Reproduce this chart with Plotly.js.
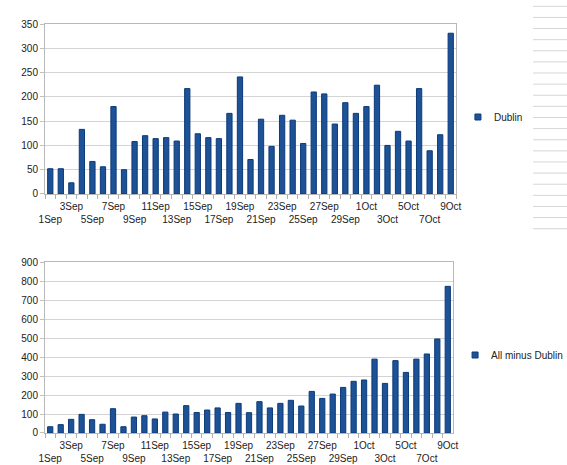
<!DOCTYPE html>
<html>
<head>
<meta charset="utf-8">
<script src="https://cdn.plot.ly/plotly-3.0.1.min.js"></script>
<style>html,body{margin:0;padding:0;background:#fff;}#chart{width:567px;height:465px;}</style>
</head>
<body>
<div id="chart"></div>
<script>
const categories = ["1Sep","2Sep","3Sep","4Sep","5Sep","6Sep","7Sep","8Sep","9Sep","10Sep",
  "11Sep","12Sep","13Sep","14Sep","15Sep","16Sep","17Sep","18Sep","19Sep","20Sep",
  "21Sep","22Sep","23Sep","24Sep","25Sep","26Sep","27Sep","28Sep","29Sep","30Sep",
  "1Oct","2Oct","3Oct","4Oct","5Oct","6Oct","7Oct","8Oct","9Oct"];
const dublin = [52,52,23,133,67,56,180,50,108,120,
  114,116,109,217,124,116,114,166,241,71,
  154,98,162,152,104,210,206,144,188,166,
  180,224,100,129,109,217,89,122,331];
const allMinusDublin = [33,44,72,98,70,46,128,33,84,91,
  74,110,100,144,108,121,132,108,156,107,
  165,132,156,172,142,219,182,205,240,272,
  279,389,261,381,319,389,416,495,772];
const seriesNames = ["Dublin","All minus Dublin"];

// two-row tick labels: every other day labelled, alternating rows
const tickText = categories.map((c, i) => i % 4 === 0 ? " <br>" + c : (i % 4 === 2 ? c : ""));

const barColor = "#1d5296";
const barLine = "#0c3a78";
const font = {family: "Liberation Sans, Arial, sans-serif", size: 10, color: "#222"};

const traces = [
  {type: "bar", x: categories, y: dublin, name: seriesNames[0], xaxis: "x", yaxis: "y",
   marker: {color: barColor, line: {color: barLine, width: 1}}, legend: "legend"},
  {type: "bar", x: categories, y: allMinusDublin, name: seriesNames[1], xaxis: "x2", yaxis: "y2",
   marker: {color: barColor, line: {color: barLine, width: 1}}, legend: "legend2"}
];

function xAxis(domain, anchor) {
  return {domain: domain, anchor: anchor, type: "category", tickmode: "array",
    tickvals: categories, ticktext: tickText, tickson: "boundaries",
    ticks: "outside", ticklen: 4, tickcolor: "#b0b0b0", showgrid: false,
    showline: true, linecolor: "#b8b8b8", linewidth: 1, mirror: true,
    ticklabelstandoff: 3,
    tickangle: 0, automargin: false, tickfont: font, fixedrange: true};
}
function yAxis(domain, anchor, range, dtick) {
  return {domain: domain, anchor: anchor, range: range, dtick: dtick,
    ticks: "outside", ticklen: 4, tickcolor: "#c0c0c0",
    showgrid: true, gridcolor: "#d4d4d4", gridwidth: 1, zeroline: false,
    showline: true, linecolor: "#b8b8b8", linewidth: 1, mirror: true,
    automargin: false, tickfont: font, fixedrange: true};
}

// decorative spreadsheet cell borders at right edge
const shapes = [];
for (let k = 0; k < 21; k++) {
  const yp = 6.3 + k * 11.12;
  shapes.push({type: "line", xref: "paper", yref: "paper",
    x0: (533 - 45) / 411, x1: (567 - 45) / 411,
    y0: (433 - yp) / 409, y1: (433 - yp) / 409,
    line: {color: "#d6d6d6", width: 1}});
}

const layout = {
  width: 567, height: 465,
  margin: {l: 45, r: 111, t: 24, b: 32, autoexpand: false},
  paper_bgcolor: "#fff", plot_bgcolor: "#fff",
  font: font,
  bargap: 0.5,
  xaxis: xAxis([0, 1], "y"),
  yaxis: yAxis([0.5844, 1], "x", [0, 350], 50),
  xaxis2: xAxis([0, 0.9927], "y2"),
  yaxis2: yAxis([0, 0.418], "x2", [0, 900], 100),
  showlegend: true,
  legend: {x: 0.995, y: 0.7726, xanchor: "left", yanchor: "middle", font: font, bgcolor: "rgba(0,0,0,0)", borderwidth: 0},
  legend2: {x: 0.988, y: 0.1907, xanchor: "left", yanchor: "middle", font: font, bgcolor: "rgba(0,0,0,0)", borderwidth: 0},
  shapes: shapes
};

Plotly.newPlot("chart", traces, layout, {displayModeBar: false, staticPlot: true}).then(function (gd) {
  // smaller legend swatch like the reference
  gd.querySelectorAll(".legendpoints path").forEach(function (p) {
    p.setAttribute("d", "M7,3H1V-3H7Z");
  });
});
</script>
</body>
</html>
